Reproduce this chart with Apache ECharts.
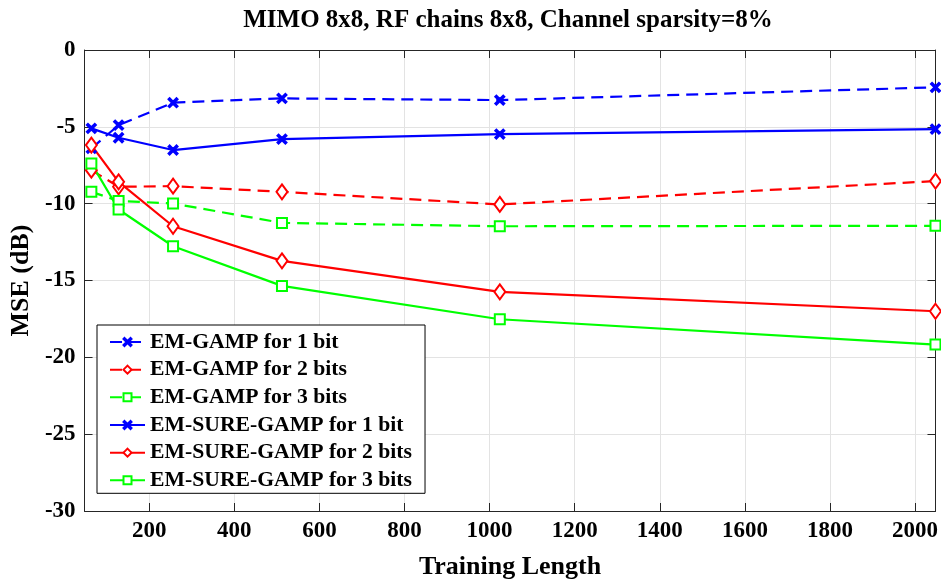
<!DOCTYPE html>
<html>
<head>
<meta charset="utf-8">
<script src="https://cdn.jsdelivr.net/npm/echarts@6/dist/echarts.min.js"></script>
<style>
  html, body { margin: 0; padding: 0; background: #fff; }
  #chart { width: 941px; height: 586px; }
</style>
</head>
<body>
<div id="chart"></div>
<script>
// Training lengths (pilot symbols) and MSE results in dB
const trainingLength = [64, 128, 256, 512, 1024, 2048];
const xTicks = [200, 400, 600, 800, 1000, 1200, 1400, 1600, 1800, 2000];

const emGamp1bit = [-6.40, -4.89, -3.43, -3.15, -3.26, -2.43];
const emGamp2bits = [-7.82, -8.90, -8.86, -9.23, -10.05, -8.53];
const emGamp3bits = [-9.23, -9.82, -9.99, -11.25, -11.47, -11.44];
const emSureGamp1bit = [-5.10, -5.71, -6.51, -5.80, -5.47, -5.15];
const emSureGamp2bits = [-6.19, -8.58, -11.47, -13.72, -15.74, -17.00];
const emSureGamp3bits = [-7.38, -10.38, -12.77, -15.35, -17.52, -19.17];

const seriesNames = [
  'EM-GAMP for 1 bit', 'EM-GAMP for 2 bits', 'EM-GAMP for 3 bits',
  'EM-SURE-GAMP for 1 bit', 'EM-SURE-GAMP for 2 bits', 'EM-SURE-GAMP for 3 bits'
];

const FONT = '"Liberation Serif", "Times New Roman", serif';
const AXIS_COLOR = '#262626';
const GRID_COLOR = '#e3e3e3';
const BLUE = '#0000ff', RED = '#ff0000', GREEN = '#00ff00';

// filled "x" cross marker
const CROSS = 'path://M0,1.2L1.2,0L5,3.8L8.8,0L10,1.2L6.2,5L10,8.8L8.8,10L5,6.2L1.2,10L0,8.8L3.8,5Z';

function pairs(ys) {
  return trainingLength.map((x, i) => [x, ys[i]]);
}

function makeSeries(name, values, color, dashed, symbol, size) {
  return {
    name: name,
    type: 'line',
    data: pairs(values),
    symbol: symbol,
    symbolSize: size,
    showSymbol: true,
    lineStyle: { color: color, width: 2.2, type: dashed ? [12, 7] : 'solid' },
    itemStyle: { color: color, borderColor: color, borderWidth: 2 },
    emphasis: { disabled: true },
    animation: false,
    z: 3
  };
}

const series = [
  makeSeries(seriesNames[0], emGamp1bit, BLUE, true, CROSS, 9),
  makeSeries(seriesNames[1], emGamp2bits, RED, true, 'emptyDiamond', [11, 15]),
  makeSeries(seriesNames[2], emGamp3bits, GREEN, true, 'emptyRect', 10),
  makeSeries(seriesNames[3], emSureGamp1bit, BLUE, false, CROSS, 9),
  makeSeries(seriesNames[4], emSureGamp2bits, RED, false, 'emptyDiamond', [11, 15]),
  makeSeries(seriesNames[5], emSureGamp3bits, GREEN, false, 'emptyRect', 10)
];

const labelStyle = {
  color: '#000', fontFamily: FONT, fontWeight: 'bold', fontSize: 23,
  formatter: v => String(v)
};

function xAxisDef(pos, showLabel) {
  return {
    type: 'value', position: pos, min: 48, max: 2048,
    name: showLabel ? 'Training Length' : '',
    nameLocation: 'middle', nameGap: 43,
    nameTextStyle: { color: '#000', fontFamily: FONT, fontWeight: 'bold', fontSize: 26 },
    axisLine: { show: true, onZero: false, lineStyle: { color: AXIS_COLOR, width: 1 } },
    axisTick: { show: true, inside: true, length: 8, customValues: xTicks, lineStyle: { color: AXIS_COLOR } },
    axisLabel: Object.assign({ show: showLabel, margin: 9, customValues: xTicks }, labelStyle),
    splitLine: { show: showLabel, lineStyle: { color: GRID_COLOR, width: 1 } }
  };
}

function yAxisDef(pos, showLabel) {
  return {
    type: 'value', position: pos, min: -30, max: 0, interval: 5,
    name: showLabel ? 'MSE (dB)' : '',
    nameLocation: 'middle', nameGap: 46, nameRotate: 90,
    nameTextStyle: { color: '#000', fontFamily: FONT, fontWeight: 'bold', fontSize: 26 },
    axisLine: { show: true, onZero: false, lineStyle: { color: AXIS_COLOR, width: 1 } },
    axisTick: { show: true, inside: true, length: 8, lineStyle: { color: AXIS_COLOR } },
    axisLabel: Object.assign({ show: showLabel, margin: 9 }, labelStyle),
    splitLine: { show: showLabel, lineStyle: { color: GRID_COLOR, width: 1 } }
  };
}

const chart = echarts.init(document.getElementById('chart'), null, { renderer: 'canvas' });
chart.setOption({
  backgroundColor: '#fff',
  animation: false,
  title: {
    text: 'MIMO 8x8, RF chains 8x8, Channel sparsity=8%',
    left: 503, top: 3, textAlign: 'center',
    textStyle: { color: '#000', fontFamily: FONT, fontWeight: 'bold', fontSize: 25 }
  },
  grid: { left: 82, right: 5, top: 50, bottom: 75, containLabel: false },
  xAxis: [xAxisDef('bottom', true), xAxisDef('top', false)],
  yAxis: [yAxisDef('left', true), yAxisDef('right', false)],
  legend: {
    data: seriesNames,
    orient: 'vertical',
    left: 97, top: 325,
    padding: [6, 13, 2, 12],
    itemWidth: 35, itemHeight: 10, itemGap: 5.66,
    backgroundColor: '#fff',
    borderColor: '#000', borderWidth: 1,
    textStyle: { color: '#000', fontFamily: FONT, fontWeight: 'bold', fontSize: 21.7, lineHeight: 22 },
    selectedMode: false
  },
  series: series
});
</script>
</body>
</html>
